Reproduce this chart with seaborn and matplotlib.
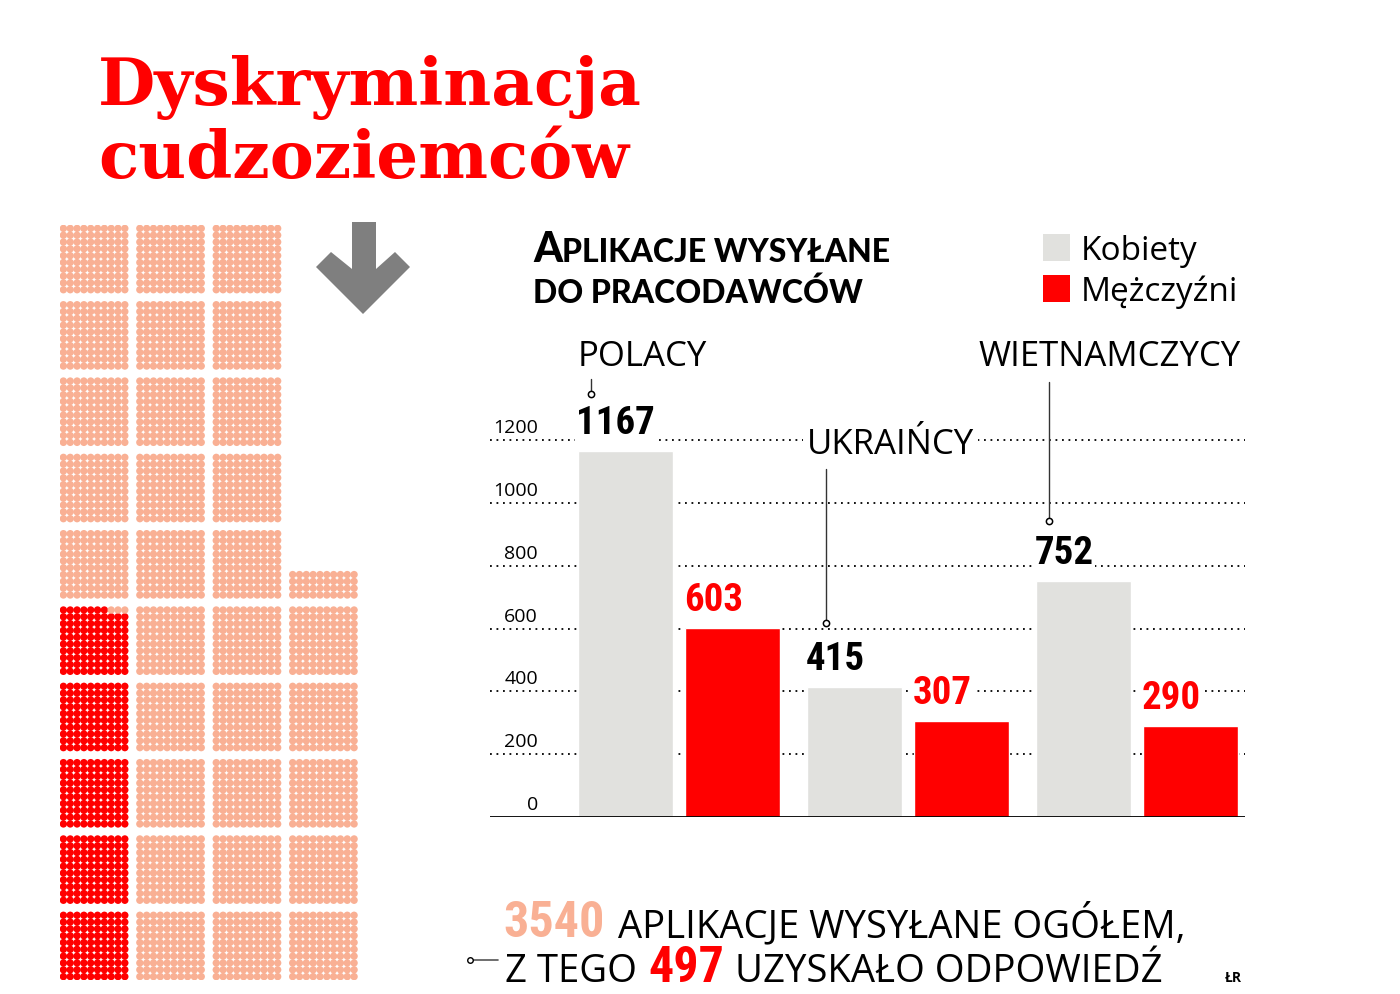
import numpy as np
import pandas as pd
import matplotlib.pyplot as plt
import seaborn as sns
from matplotlib.patches import Polygon, Rectangle

# data
groups = ["POLACY", "UKRAIŃCY", "WIETNAMCZYCY"]
sexes = ["Kobiety", "Mężczyźni"]
women = [1167, 415, 752]
men = [603, 307, 290]
yticks = [0, 200, 400, 600, 800, 1000, 1200]
total_apps = 3540
answered = 497

RED = "#ff0000"
GREY = "#e1e1de"
SALMON = "#f9b094"
ARROW = "#7f7f7f"
SANS = ["Open Sans", "DejaVu Sans"]
NARROW = ["Liberation Sans Narrow", "Roboto Condensed", "DejaVu Sans"]
HEAVY = ["Lato", "DejaVu Sans"]

sns.set_theme(style="white")
plt.rcParams["font.family"] = SANS

W, H = 1400, 995
fig = plt.figure(figsize=(W / 100, H / 100), dpi=100)


def px_rect(x0, y0, x1, y1):
    return [x0 / W, 1 - y1 / H, (x1 - x0) / W, (y1 - y0) / H]


# overlay in pixel coords for decorations
ov = fig.add_axes([0, 0, 1, 1], zorder=0)
ov.set_xlim(0, W)
ov.set_ylim(H, 0)
ov.axis("off")

# title
ov.text(98, 105, "Dyskryminacja", color=RED, fontsize=47.5, fontweight="bold",
        family=["DejaVu Serif"], va="baseline")
ov.text(98, 178, "cudzoziemców", color=RED, fontsize=47.5, fontweight="bold",
        family=["DejaVu Serif"], va="baseline")

# arrow
ov.add_patch(Polygon([(352, 223), (376, 223), (376, 270), (395, 253), (410, 268),
                      (363, 315), (316, 268), (331, 253), (352, 270)],
                     closed=True, color=ARROW, lw=0))

renderer = fig.canvas.get_renderer()


def chain(x, y, parts):
    for txt, kw, gap in parts:
        t = ov.text(x, y, txt, va="baseline", ha="left", **kw)
        bb = t.get_window_extent(renderer=renderer)
        x = ov.transData.inverted().transform((bb.x1, bb.y0))[0] + gap
    return x


# chart subtitle (small caps look)
chain(533, 262, [("A", dict(fontsize=30, fontweight="black", family=HEAVY, color="black"), 0),
                 ("PLIKACJE WYSYŁANE", dict(fontsize=23, fontweight="black", family=HEAVY, color="black"), 0)])
ov.text(533, 303, "DO PRACODAWCÓW", fontsize=23, fontweight="black", family=HEAVY,
        color="black", va="baseline")

# legend
for i, (lab, col) in enumerate(zip(sexes, [GREY, RED])):
    y0 = 235 + i * 41
    ov.add_patch(Rectangle((1043, y0), 27, 27, color=col, lw=0))
    ov.text(1081, y0 + 25, lab, fontsize=24, color="black", va="baseline")

# bottom summary
chain(503, 937, [(f"{total_apps}", dict(fontsize=36, fontweight="bold", family=NARROW,
                                        fontstretch="condensed", color=SALMON), 14),
                 ("APLIKACJE WYSYŁANE OGÓŁEM,", dict(fontsize=27.5, color="black"), 0)])
chain(505, 982, [("Z TEGO", dict(fontsize=27.5, color="black"), 11),
                 (f"{answered}", dict(fontsize=36, fontweight="bold", family=NARROW,
                                      fontstretch="condensed", color=RED), 11),
                 ("UZYSKAŁO ODPOWIEDŹ", dict(fontsize=27.5, color="black"), 0)])
ov.plot([472, 498], [961, 961], color="#555555", lw=1.2)
ov.plot([470], [961], marker="o", ms=4, mfc="white", mec="black", mew=1)
ov.text(1225, 982, "ŁR", fontsize=10, fontweight="bold", color="black", va="baseline")

# dot grid: every dot = one application
pitch = 11.2
k = np.arange(total_apps)
dots = pd.DataFrame({
    "x": (k // 1000) * pitch + k % 10,
    "y": ((k % 1000) // 100) * pitch + (k % 100) // 10,
    "typ": np.where(k < answered, "odpowiedź", "bez odpowiedzi"),
})
axd = fig.add_axes(px_rect(60, 226, 357.5, 981), zorder=1)
sns.scatterplot(data=dots, x="x", y="y", hue="typ", palette={"odpowiedź": RED, "bez odpowiedzi": SALMON},
                s=28, linewidth=0, legend=False, ax=axd)
axd.set_xlim(-0.5, 3 * pitch + 9.5)
axd.set_ylim(-0.5, 9 * pitch + 9.5)
axd.axis("off")

# bar chart
df = pd.DataFrame({
    "grupa": groups * 2,
    "płeć": [sexes[0]] * len(groups) + [sexes[1]] * len(groups),
    "liczba": women + men,
})
ax = fig.add_axes(px_rect(490, 410, 1245, 818), zorder=2)
ax.set_facecolor("none")
sns.barplot(data=df, x="grupa", y="liczba", hue="płeć", palette=[GREY, RED], saturation=1,
            width=0.939, gap=0.116, legend=False, ax=ax, zorder=3)
ax.set_xlim(-0.826, 2.472)
ax.set_ylim(0, 1300)
for s in ax.spines.values():
    s.set_visible(False)
ax.set_xlabel("")
ax.set_ylabel("")
ax.set_xticks([])
ax.set_yticks(yticks[1:])
ax.set_yticklabels([])
ax.tick_params(length=0)
ax.yaxis.grid(True, color="black", lw=1.3, linestyle=(0, (1, 2.6)))
ax.set_axisbelow(True)
ax.axhline(0, color="black", lw=1.3, zorder=4)

for t in yticks:
    ax.annotate(f"{t}", xy=(0.0636, t), xycoords=ax.get_yaxis_transform(), xytext=(0, 3),
                textcoords="offset points", ha="right", va="bottom", fontsize=14, color="black")

bars = [p for p in ax.patches if p.get_height() > 0]
bars = sorted(bars, key=lambda p: p.get_x())
for p in bars:
    v = p.get_height()
    col = "black" if np.isclose(p.get_facecolor()[0], p.get_facecolor()[2], atol=0.1) else RED
    ax.annotate(f"{v:.0f}", xy=(p.get_x(), v), xytext=(-1, 7), textcoords="offset points",
                ha="left", va="bottom", fontsize=28, fontweight="black", family=NARROW,
                fontstretch="condensed", color=col,
                zorder=5, bbox=dict(facecolor="white", edgecolor="none", pad=1.5))

# group labels with leader lines
women_bars = bars[0::2]
lab_y = [1468, 1188, 1468]
leaders = [(0.057, 1395, 1347), (0.083, 1108, 618), (0.057, 1385, 943)]
for i, (g, p) in enumerate(zip(groups, women_bars)):
    x0 = p.get_x()
    if i == 2:
        ax.text(bars[-1].get_x() + bars[-1].get_width() + 0.01, lab_y[i], g, ha="right", va="center",
                fontsize=25, color="black", zorder=5)
    else:
        ax.text(x0, lab_y[i], g, ha="left", va="center", fontsize=25, color="black", zorder=5,
                bbox=dict(facecolor="white", edgecolor="none", pad=3))
    dx, ya, yb = leaders[i]
    ax.plot([x0 + dx, x0 + dx], [ya, yb], color="#333333", lw=1, zorder=5, clip_on=False)
    ax.plot([x0 + dx], [yb], marker="o", ms=4.5, mfc="white", mec="black", mew=1.1, zorder=6, clip_on=False)

fig.savefig("out.png", dpi=100)
